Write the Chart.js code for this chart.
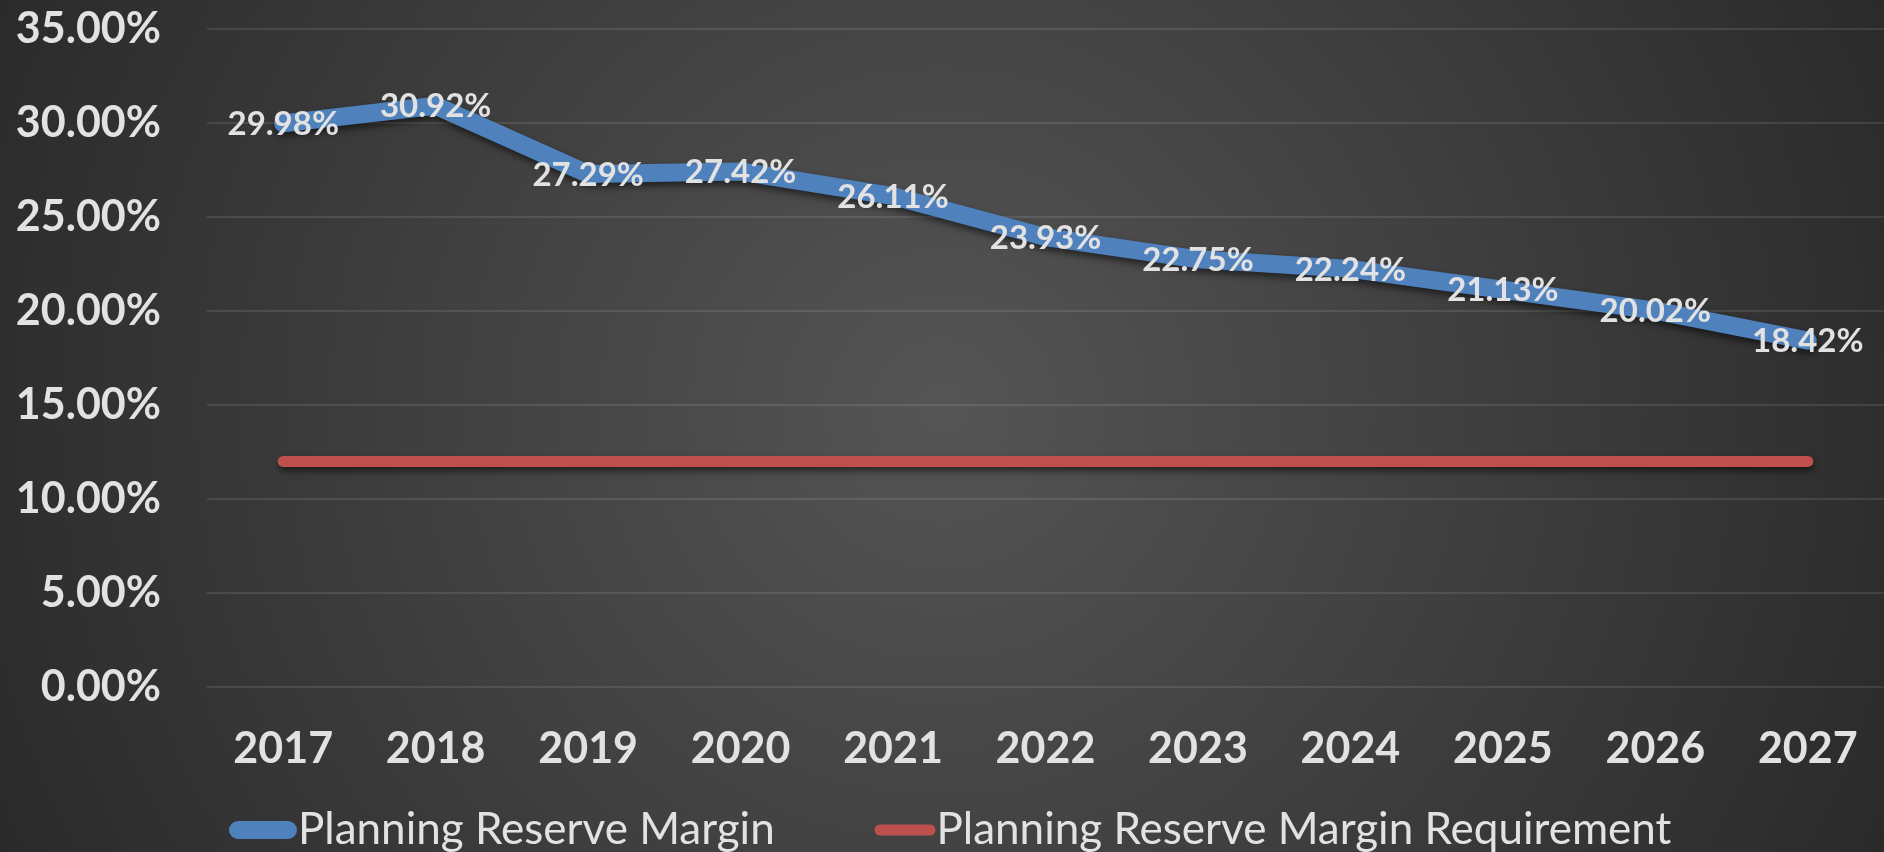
<!DOCTYPE html>
<html>
<head>
<meta charset="utf-8">
<script src="https://cdn.jsdelivr.net/npm/chart.js@4/dist/chart.umd.min.js"></script>
<style>
  html, body { margin: 0; padding: 0; background: #262626; overflow: hidden; }
  #wrap { width: 1884px; height: 852px; }
</style>
</head>
<body>
<div id="wrap"><canvas id="chart" width="1884" height="852"></canvas></div>
<script>
// Planning reserve margin outlook, 2017-2027
const years = ['2017', '2018', '2019', '2020', '2021', '2022', '2023', '2024', '2025', '2026', '2027'];
const reserveMargin = [29.98, 30.92, 27.29, 27.42, 26.11, 23.93, 22.75, 22.24, 21.13, 20.02, 18.42];
const marginRequirement = [12, 12, 12, 12, 12, 12, 12, 12, 12, 12, 12];
const seriesNames = ['Planning Reserve Margin', 'Planning Reserve Margin Requirement'];
const yMin = 0, yMax = 35, yStep = 5;

const BLUE = '#4f81bd';
const RED = '#c0504d';
const TEXT = '#e2e2e2';
const FONT = 'Lato, "Open Sans", sans-serif';

// dark radial backdrop, lighter toward the middle
const backdrop = {
  id: 'backdrop',
  beforeDraw(chart) {
    const { ctx, width, height } = chart;
    const g = ctx.createRadialGradient(width * 0.5, height * 0.48, 0, width * 0.5, height * 0.48, width * 0.6);
    g.addColorStop(0, '#555555');
    g.addColorStop(1, '#262626');
    ctx.save();
    ctx.fillStyle = g;
    ctx.fillRect(0, 0, width, height);
    ctx.restore();
  }
};

// soft drop shadow under the series lines
const lineShadow = {
  id: 'lineShadow',
  beforeDatasetDraw(chart) {
    const ctx = chart.ctx;
    ctx.save();
    ctx.shadowColor = 'rgba(0,0,0,0.55)';
    ctx.shadowBlur = 7;
    ctx.shadowOffsetX = 1;
    ctx.shadowOffsetY = 4;
  },
  afterDatasetDraw(chart) {
    chart.ctx.restore();
  }
};

// value labels centred on each reserve-margin point
const valueLabels = {
  id: 'valueLabels',
  afterDatasetsDraw(chart) {
    const ctx = chart.ctx;
    const meta = chart.getDatasetMeta(0);
    const values = chart.data.datasets[0].data;
    ctx.save();
    ctx.font = 'bold 33px ' + FONT;
    ctx.fillStyle = TEXT;
    ctx.textAlign = 'center';
    ctx.textBaseline = 'middle';
    meta.data.forEach((pt, i) => {
      ctx.fillText(values[i].toFixed(2) + '%', pt.x, pt.y + 1);
    });
    ctx.restore();
  }
};

// legend row along the bottom edge
const bottomLegend = {
  id: 'bottomLegend',
  afterDraw(chart, args, opts) {
    const ctx = chart.ctx;
    ctx.save();
    ctx.font = '44px ' + FONT;
    ctx.textBaseline = 'middle';
    ctx.textAlign = 'left';
    chart.data.datasets.forEach((ds, i) => {
      const item = opts.items[i];
      const w = ds.borderWidth;
      ctx.strokeStyle = ds.borderColor;
      ctx.lineWidth = w;
      ctx.lineCap = 'round';
      ctx.beginPath();
      ctx.moveTo(item.cx - opts.stroke / 2, opts.y);
      ctx.lineTo(item.cx + opts.stroke / 2, opts.y);
      ctx.stroke();
      ctx.fillStyle = TEXT;
      ctx.fillText(ds.label, item.cx + opts.stroke / 2 + w / 2 + 1, opts.y);
    });
    ctx.restore();
  }
};

new Chart(document.getElementById('chart'), {
  type: 'line',
  data: {
    labels: years,
    datasets: [
      {
        label: seriesNames[0],
        data: reserveMargin,
        borderColor: BLUE,
        backgroundColor: BLUE,
        borderWidth: 18,
        borderCapStyle: 'round',
        borderJoinStyle: 'round',
        pointRadius: 0,
        tension: 0
      },
      {
        label: seriesNames[1],
        data: marginRequirement,
        borderColor: RED,
        backgroundColor: RED,
        borderWidth: 11,
        borderCapStyle: 'round',
        borderJoinStyle: 'round',
        pointRadius: 0,
        tension: 0
      }
    ]
  },
  options: {
    responsive: false,
    animation: false,
    devicePixelRatio: 1,
    layout: { padding: { top: 29, right: -4, bottom: 0, left: 0 } },
    plugins: {
      legend: { display: false },
      tooltip: { enabled: false },
      bottomLegend: {
        y: 830,
        stroke: 50,
        items: [ { cx: 263 }, { cx: 905 } ]
      }
    },
    scales: {
      x: {
        offset: true,
        grid: { display: false, drawTicks: false },
        border: { display: false },
        ticks: {
          color: TEXT,
          font: { family: FONT, size: 43, weight: 'bold' },
          padding: 36,
          maxRotation: 0,
          autoSkip: false
        },
        afterFit(scale) {
          scale.height = 165;
          scale.paddingLeft = 0;
          scale.paddingRight = 0;
        }
      },
      y: {
        min: yMin,
        max: yMax,
        grid: { color: 'rgba(255,255,255,0.1)', lineWidth: 2, drawTicks: false },
        border: { display: false },
        ticks: {
          stepSize: yStep,
          color: TEXT,
          font: { family: FONT, size: 43, weight: 'bold' },
          padding: 46,
          callback: v => v.toFixed(2) + '%'
        },
        afterFit(scale) {
          scale.width = 207;
          scale.paddingTop = 0;
          scale.paddingBottom = 0;
        }
      }
    }
  },
  plugins: [backdrop, lineShadow, valueLabels, bottomLegend]
});
</script>
</body>
</html>
